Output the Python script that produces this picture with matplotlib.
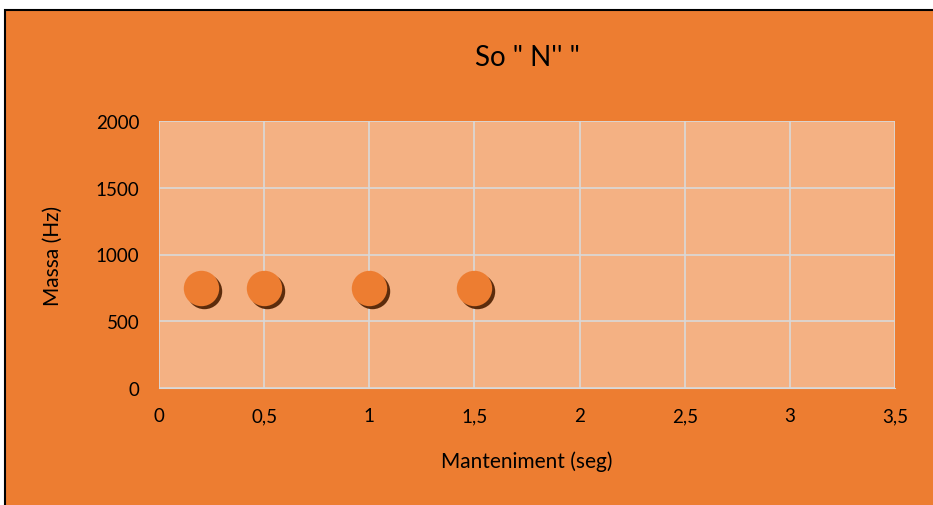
import matplotlib.pyplot as plt
import matplotlib.transforms as mtransforms
from matplotlib.patches import Rectangle

# duration (s) vs frequency (Hz)
manteniment = [0.2, 0.5, 1.0, 1.5]
massa = [750, 750, 750, 750]

x_ticks = [0, 0.5, 1, 1.5, 2, 2.5, 3, 3.5]
x_labels = ["0", "0,5", "1", "1,5", "2", "2,5", "3", "3,5"]
y_ticks = [0, 500, 1000, 1500, 2000]

ORANGE = "#ED7D31"
PLOT_BG = "#F4B183"
GRID = "#D9D9D9"

plt.rcParams["font.family"] = ["Lato", "DejaVu Sans"]

fig = plt.figure(figsize=(9.33, 5.06), dpi=100)
fig.patch.set_facecolor("white")
fig.patches.append(Rectangle((5 / 933, -0.01), 1.0, 1 - 11 / 506 + 0.01,
                             transform=fig.transFigure, facecolor=ORANGE,
                             edgecolor="black", linewidth=1.5, zorder=-1))

ax = fig.add_axes([159 / 933, 1 - 389 / 506, 736 / 933, 267 / 506])
ax.set_facecolor(PLOT_BG)
ax.set_xlim(0, 3.5)
ax.set_ylim(0, 2000)
ax.set_xticks(x_ticks)
ax.set_xticklabels(x_labels)
ax.set_yticks(y_ticks)
ax.grid(True, color=GRID, linewidth=1.2)
ax.set_axisbelow(True)
for s in ax.spines.values():
    s.set_visible(False)
ax.spines["bottom"].set_visible(True)
ax.spines["bottom"].set_color(GRID)
ax.tick_params(length=0, labelsize=13.5, pad=14)

# drop shadow under each marker
shadow = mtransforms.offset_copy(ax.transData, fig=fig, x=3, y=-3, units="dots")
ax.scatter(manteniment, massa, s=650, color="#5C2C0C", transform=shadow,
           zorder=3, linewidths=0)
ax.scatter(manteniment, massa, s=650, color=ORANGE, zorder=4, linewidths=0)

ax.set_title('So " N\'\' "', fontsize=20, pad=40)
ax.set_xlabel("Manteniment (seg)", fontsize=15, labelpad=19)
ax.set_ylabel("Massa (Hz)", fontsize=15, labelpad=24)

fig.savefig("out.png", dpi=100, facecolor=fig.get_facecolor())
